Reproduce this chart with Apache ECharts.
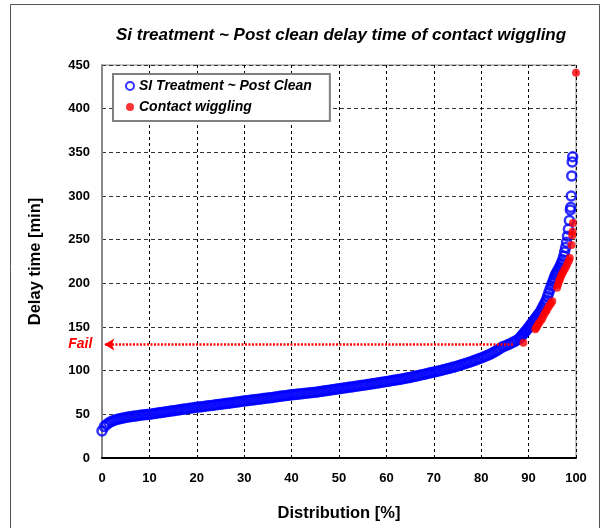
<!DOCTYPE html>
<html>
<head>
<meta charset="utf-8">
<script src="https://cdn.jsdelivr.net/npm/echarts@6/dist/echarts.min.js"></script>
<style>
html,body{margin:0;padding:0;background:#fff;}
#chart{width:606px;height:528px;}
</style>
</head>
<body>
<div id="chart"></div>
<script>
// ---- data ----
const xTicks = [0,10,20,30,40,50,60,70,80,90,100];
const yTicks = [0,50,100,150,200,250,300,350,400,450];

// SI Treatment ~ Post Clean (distribution %, delay min)
const dist = [
 0,0.5,1,1.5,2,2.5,3,3.5,4,4.5,5,5.5,6,6.5,7,7.5,8,8.5,9,9.5,10,
 10.5,11,11.5,12,12.5,13,13.5,14,14.5,15,15.5,16,16.5,17,17.5,18,18.5,19,19.5,20,
 20.5,21,21.5,22,22.5,23,23.5,24,24.5,25,25.5,26,26.5,27,27.5,28,28.5,29,29.5,30,
 30.5,31,31.5,32,32.5,33,33.5,34,34.5,35,35.5,36,36.5,37,37.5,38,38.5,39,39.5,40,
 40.5,41,41.5,42,42.5,43,43.5,44,44.5,45,45.5,46,46.5,47,47.5,48,48.5,49,49.5,50,
 50.5,51,51.5,52,52.5,53,53.5,54,54.5,55,55.5,56,56.5,57,57.5,58,58.5,59,59.5,60,
 60.5,61,61.5,62,62.5,63,63.5,64,64.5,65,65.5,66,66.5,67,67.5,68,68.5,69,69.5,70,
 70.5,71,71.5,72,72.5,73,73.5,74,74.5,75,75.5,76,76.5,77,77.5,78,78.5,79,79.5,80,
 80.5,81,81.5,82,82.5,83,83.5,84,84.5,85,
 85.5,86,86.5,87,87.5,88,
 88.25,88.5,88.75,89,89.25,89.5,89.75,90,90.25,90.5,90.75,91,91.25,91.5,91.75,92,
 92.25,92.5,92.75,93,93.25,93.5,93.75,94,94.25,94.5,94.75,95,
 95.2,95.4,95.6,95.8,96,96.2,96.4,96.6,96.8,97,97.2,97.4,97.6,97.8,98,98.2,98.4,98.6,98.8,
 98.9,99,99.1,99.2,99.3,99.4,99.5,99.6,99.7,99.8,99.9,100
];
const delay = [
 31,36,38.5,40.5,42,43,44,44.7,45.3,45.9,46.4,46.9,47.3,47.7,48.1,48.5,48.9,49.2,49.5,49.8,50.1,
 50.5,50.9,51.3,51.7,52.1,52.5,52.9,53.3,53.7,54.1,54.5,54.9,55.3,55.7,56.1,56.5,56.9,57.3,57.7,
 58.1,58.4,58.8,59.1,59.5,59.8,60.2,60.5,60.9,61.2,61.6,61.9,62.3,62.6,63.0,63.3,63.7,64.1,64.5,
 64.9,65.2,65.6,65.9,66.3,66.6,67.0,67.3,67.7,68.0,68.4,68.7,69.1,69.4,69.8,70.2,70.6,71.0,71.4,
 71.7,72.0,72.3,72.6,72.9,73.2,73.5,73.8,74.1,74.4,74.7,75.0,75.3,75.7,76.1,76.5,76.9,77.3,77.7,
 78.1,78.5,78.9,79.3,79.7,80.1,80.5,80.9,81.3,81.7,82.1,82.5,82.9,83.3,83.7,84.1,84.5,84.9,85.4,
 85.8,86.2,86.7,87.1,87.6,88.0,88.5,88.9,89.4,89.8,90.3,90.8,91.3,91.8,92.3,92.9,93.5,94.1,94.8,
 95.4,96.0,96.6,97.2,97.8,98.4,99.0,99.6,100.3,101.0,101.7,102.4,103.1,103.8,104.6,105.4,106.2,107.0,107.9,
 108.8,109.7,110.6,111.6,112.6,113.6,114.6,115.7,116.8,117.9,
 119.2,120.6,122.1,123.7,125.4,127.3,
 128.3,129.4,130.6,131.9,133.3,134.8,136.4,138.0,139.6,141.2,142.8,144.4,146.0,147.7,149.4,151.2,
 153.0,154.8,156.6,158.4,160.2,162.0,163.9,165.8,167.8,170.2,172.7,175.3,
 178,181,185,189,193,197,200,203,206,209,211,213,215,217,219,221.5,224,227,231,
 236,241,247,254,262,272,284,287,300,323,339,345
];

// Contact wiggling
const wiggleDist = [88.9,91.4,91.6,91.8,92.0,92.2,92.6,92.9,93.2,93.5,93.8,94.1,94.4,94.7,95.0,
 96.0,96.2,96.4,96.6,96.8,97.0,97.3,97.6,97.9,98.2,98.5,98.7,99.05,99.2,99.25,99.35,100];
const wiggleDelay = [132,147.5,149,151,153,154.5,157.5,160,163.5,166.5,169,172,174.5,177,179.5,
 195,198.5,202,204.5,207.5,210,213,216,219,222.5,226,229,244,255,259,269,441];

const failLevel = 130;
const failFrom = 86.7;
const failTo = 0.5;

// ---- chart ----
const FONT = '"Liberation Sans", Arial, sans-serif';
const chart = echarts.init(document.getElementById('chart'), null, {renderer:'canvas'});
const blueData = dist.map((d,i)=>[d, delay[i]]);
const redData = wiggleDist.map((d,i)=>[d, wiggleDelay[i]]);

chart.setOption({
  animation:false,
  backgroundColor:'#ffffff',
  textStyle:{fontFamily:FONT},
  title:{
    text:'Si treatment ~ Post clean delay time of contact wiggling',
    left:111, top:22,
    textStyle:{fontFamily:FONT, fontSize:17, fontWeight:'bold', fontStyle:'italic', color:'#000'}
  },
  graphic:[{
    type:'rect', silent:true, z:-10,
    shape:{x:10.5, y:4.5, width:589, height:600},
    style:{fill:'none', stroke:'#555', lineWidth:1}
  }],
  legend:{
    orient:'vertical', left:113, top:74,
    backgroundColor:'#fff', borderColor:'#808080', borderWidth:2, borderRadius:0,
    padding:[5,18,7,12], itemGap:7, itemWidth:8, itemHeight:8,
    textStyle:{fontFamily:FONT, fontSize:14, fontWeight:'bold', fontStyle:'italic', color:'#000'},
    data:['SI Treatment ~ Post Clean','Contact wiggling']
  },
  grid:{left:102, right:30, top:65, bottom:70, show:true, borderColor:'#888', borderWidth:1, backgroundColor:'#fff'},
  xAxis:{
    type:'value', min:xTicks[0], max:xTicks[xTicks.length-1], interval:10,
    name:'Distribution [%]', nameLocation:'middle', nameGap:47,
    nameTextStyle:{fontFamily:FONT, fontSize:16.5, fontWeight:'bold', color:'#000'},
    axisLine:{show:true, onZero:false, lineStyle:{color:'#000', width:2}},
    axisTick:{show:false},
    axisLabel:{margin:14, fontFamily:FONT, fontSize:13, fontWeight:'bold', color:'#000'},
    splitLine:{show:true, lineStyle:{color:'#000', width:1, type:[3,3]}}
  },
  yAxis:{
    type:'value', min:yTicks[0], max:yTicks[yTicks.length-1], interval:50,
    name:'Delay time [min]', nameLocation:'middle', nameGap:58, nameRotate:90,
    nameTextStyle:{fontFamily:FONT, fontSize:16.5, fontWeight:'bold', color:'#000'},
    axisLine:{show:true, onZero:false, lineStyle:{color:'#888', width:2}},
    axisTick:{show:false},
    axisLabel:{margin:12, fontFamily:FONT, fontSize:13, fontWeight:'bold', color:'#000'},
    splitLine:{show:true, lineStyle:{color:'#333', width:1, type:[4,3]}}
  },
  series:[
    {
      name:'SI Treatment ~ Post Clean', type:'scatter', symbol:'circle', symbolSize:9,
      itemStyle:{color:'rgba(255,255,255,0)', borderColor:'#0000ff', borderWidth:2.5},
      data:blueData, z:2
    },
    {
      name:'Contact wiggling', type:'scatter', symbol:'circle', symbolSize:8,
      itemStyle:{color:'#ff0000'},
      data:redData, z:3,
      markLine:{
        silent:true, animation:false,
        symbol:['none','arrow'], symbolSize:[9,10],
        lineStyle:{color:'#ff0000', width:2.5, type:[2,1.5]},
        label:{show:true, position:'end', distance:12, formatter:'Fail',
          fontFamily:FONT, fontSize:14, fontWeight:'bold', fontStyle:'italic', color:'#ff0000'},
        data:[[{coord:[failFrom, failLevel]},{coord:[failTo, failLevel]}]]
      }
    }
  ]
});
</script>
</body>
</html>
